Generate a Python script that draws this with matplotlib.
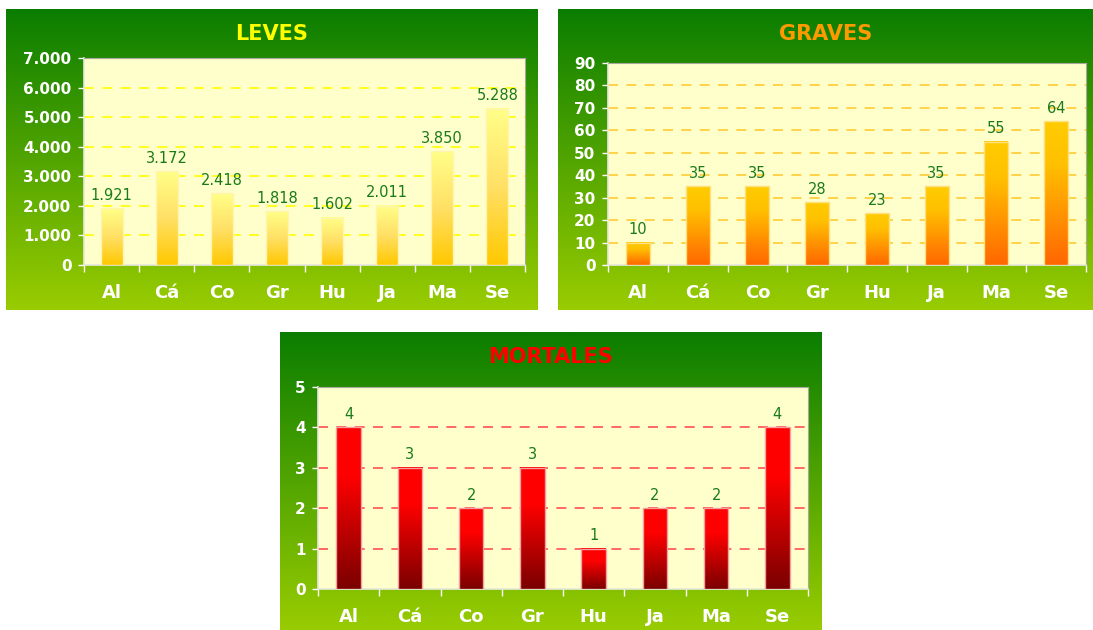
import numpy as np
import matplotlib
matplotlib.use('Agg')
import matplotlib.pyplot as plt
from matplotlib.colors import LinearSegmentedColormap

# data
provincias = ['Al', 'Cá', 'Co', 'Gr', 'Hu', 'Ja', 'Ma', 'Se']
leves      = [1921, 3172, 2418, 1818, 1602, 2011, 3850, 5288]
graves     = [10, 35, 35, 28, 23, 35, 55, 64]
mortales   = [4, 3, 2, 3, 1, 2, 2, 4]

leves_ticks    = [0, 1000, 2000, 3000, 4000, 5000, 6000, 7000]
graves_ticks   = list(range(0, 91, 10))
mortales_ticks = [0, 1, 2, 3, 4, 5]

W, H = 1093, 630
fig = plt.figure(figsize=(W / 100, H / 100), dpi=100)
fig.patch.set_facecolor('white')

bg_cmap = LinearSegmentedColormap.from_list('bg', ['#99cc00', '#0a7d00'])


def rect(x0, y0, x1, y1):
    """pixel box (top-left origin) -> figure fraction"""
    return [x0 / W, 1 - y1 / H, (x1 - x0) / W, (y1 - y0) / H]


def fmt(v):
    return f'{v:,}'.replace(',', '.')


def draw_panel(box, plot_box, title, title_color, values, ticks,
               bar_cmap, edge, grid_color):
    # green gradient background
    bg = fig.add_axes(rect(*box), zorder=0)
    bg.imshow(np.linspace(0, 1, 256).reshape(-1, 1), cmap=bg_cmap,
              origin='lower', aspect='auto', extent=[0, 1, 0, 1])
    bg.set_axis_off()

    tx = (box[0] + box[2]) / 2
    fig.text(tx / W, 1 - (box[1] + 25) / H, title, color=title_color,
             fontsize=15, fontweight='bold', ha='center', va='center')

    ax = fig.add_axes(rect(*plot_box), zorder=1)
    ax.set_facecolor('#ffffcc')
    x = np.arange(len(values))
    bars = ax.bar(x, values, width=0.4, facecolor='none',
                  edgecolor=edge, linewidth=1, zorder=4)
    grad = np.linspace(0, 1, 256).reshape(-1, 1)
    for b, v in zip(bars, values):
        ax.imshow(grad, cmap=bar_cmap, origin='lower', aspect='auto',
                  extent=[b.get_x(), b.get_x() + b.get_width(), 0, v],
                  zorder=3)
        ax.annotate(fmt(v), (b.get_x() + b.get_width() / 2, v),
                    xytext=(0, 4), textcoords='offset points',
                    ha='center', va='bottom', fontsize=10.5,
                    color='#1a7a1a')

    ax.set_xlim(-0.5, len(values) - 0.5)
    ax.set_ylim(ticks[0], ticks[-1])
    ax.set_yticks(ticks)
    ax.set_yticklabels([fmt(t) for t in ticks])
    ax.set_xticks(x)
    ax.set_xticklabels(provincias)
    ax.set_xticks(np.arange(-0.5, len(values)), minor=True)

    for t in ticks[1:-1]:
        ax.axhline(t, color=grid_color, linestyle=(0, (6, 5)),
                   linewidth=1.2, zorder=2)

    ax.tick_params(axis='y', colors='white', labelsize=11, length=4,
                   width=1, pad=5)
    ax.tick_params(axis='x', which='major', length=0, pad=14,
                   labelsize=13, labelcolor='white')
    ax.tick_params(axis='x', which='minor', length=5, width=1,
                   color='white')
    for lab in ax.get_xticklabels() + ax.get_yticklabels():
        lab.set_fontweight('bold')

    for side in ('top', 'right'):
        ax.spines[side].set_color('#a8a8a0')
    for side in ('left', 'bottom'):
        ax.spines[side].set_color('#e8e8e0')
        ax.spines[side].set_linewidth(1.2)
    return ax


leves_cmap = LinearSegmentedColormap.from_list(
    'leves', ['#ffc800', '#ffe066', '#ffff88'])
graves_cmap = LinearSegmentedColormap.from_list(
    'graves', [(0, '#ff6600'), (0.7, '#ffc000'), (1, '#ffcc00')])
mortales_cmap = LinearSegmentedColormap.from_list(
    'mortales', [(0, '#7a0000'), (0.7, '#ff0000'), (1, '#ff0000')])

draw_panel((6, 9, 538, 310), (84, 58, 525, 265), 'LEVES', '#ffff00',
           leves, leves_ticks, leves_cmap, '#fff4b0', '#ffff00')
draw_panel((558, 9, 1093, 310), (608, 63, 1086, 265), 'GRAVES', '#ff9900',
           graves, graves_ticks, graves_cmap, '#ffe080', '#ffcc33')
draw_panel((280, 332, 822, 630), (318, 387, 808, 589), 'MORTALES', '#ff0000',
           mortales, mortales_ticks, mortales_cmap, '#f4a0a0', '#ff5050')

fig.savefig('out.png', dpi=100, facecolor='white')
